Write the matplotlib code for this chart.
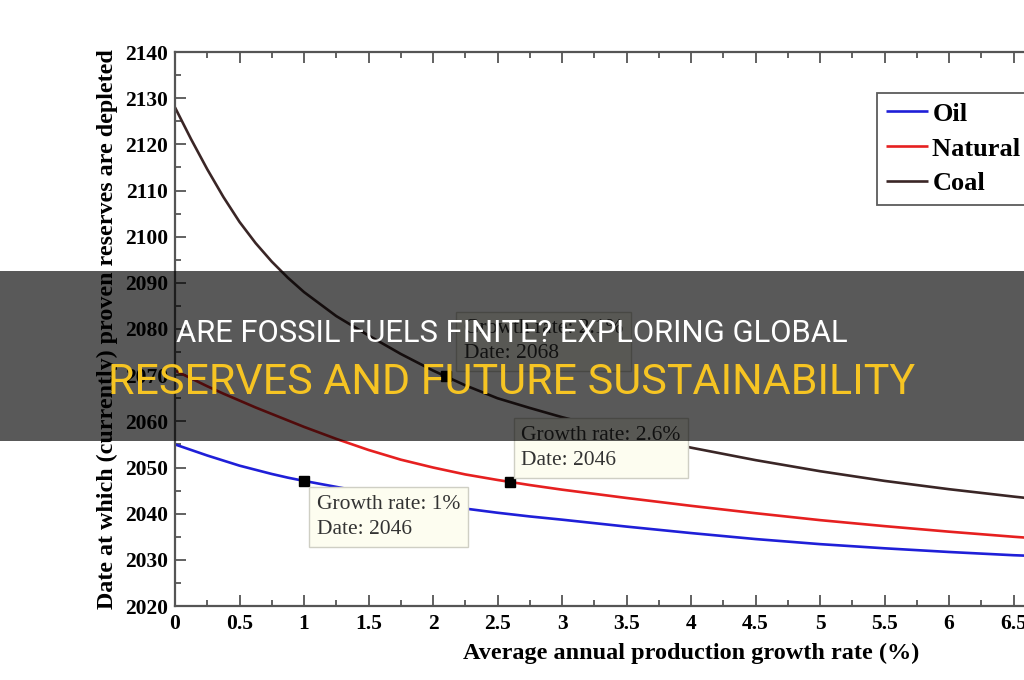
import numpy as np
import matplotlib
matplotlib.use('Agg')
import matplotlib.pyplot as plt
from matplotlib.patches import Rectangle
from matplotlib.ticker import MultipleLocator, FuncFormatter

# ---- data ----
growth = [0, 0.125, 0.25, 0.375, 0.5, 0.625, 0.75, 0.875, 1.0, 1.25, 1.5, 1.75, 2.0,
          2.25, 2.5, 2.75, 3.0, 3.5, 4.0, 4.5, 5.0, 5.5, 6.0, 6.5, 6.6]
oil = [2055.0, 2053.8, 2052.6, 2051.5, 2050.4, 2049.5, 2048.6, 2047.8, 2047.1, 2045.8,
       2044.5, 2043.3, 2042.2, 2041.1, 2040.2, 2039.4, 2038.7, 2037.2, 2035.8, 2034.5,
       2033.4, 2032.5, 2031.7, 2031.0, 2030.9]
gas = [2071.0, 2069.3, 2067.6, 2066.0, 2064.5, 2063.0, 2061.6, 2060.2, 2058.8, 2056.2,
       2053.8, 2051.7, 2050.0, 2048.5, 2047.3, 2046.2, 2045.2, 2043.4, 2041.7, 2040.1,
       2038.6, 2037.3, 2036.1, 2035.0, 2034.8]
coal = [2128.0, 2121.1, 2114.6, 2108.6, 2103.2, 2098.6, 2094.6, 2091.1, 2088.0, 2082.8,
        2078.6, 2074.6, 2071.0, 2067.8, 2065.0, 2062.9, 2060.9, 2057.4, 2054.3, 2051.6,
        2049.2, 2047.1, 2045.3, 2043.7, 2043.4]
series_names = ["Oil", "Natural gas", "Coal"]
series_colors = ["#1f1fd8", "#e62020", "#3a2626"]

ann_rates = [1.0, 2.6, 2.1]
ann_dates = [2046, 2046, 2068]
ann_series = [0, 1, 2]
ann_offsets = [(6, -6, "top"), (4, 4, "bottom"), (11, 5, "bottom")]

title_line1 = "ARE FOSSIL FUELS FINITE? EXPLORING GLOBAL"
title_line2 = "RESERVES AND FUTURE SUSTAINABILITY"

W, H = 1024, 680
fig = plt.figure(figsize=(W / 100, H / 100), dpi=100)
fig.patch.set_facecolor("white")

# axes: x from 0 at px 175, 129 px per unit; y 2020 at px 606, 2140 at px 52
ax = fig.add_axes([175 / W, 1 - 606 / H, 8 * 129 / W, (606 - 52) / H])
ax.set_xlim(0, 8)
ax.set_ylim(2020, 2140)

all_series = [oil, gas, coal]
for vals, name, col in zip(all_series, series_names, series_colors):
    ax.plot(growth, vals, color=col, lw=1.9, label=name, zorder=2,
            solid_capstyle="butt", solid_joinstyle="round")

serif = "Liberation Serif"
ax.xaxis.set_major_locator(MultipleLocator(0.5))
ax.xaxis.set_minor_locator(MultipleLocator(0.25))
ax.yaxis.set_major_locator(MultipleLocator(10))
ax.yaxis.set_minor_locator(MultipleLocator(5))
ax.xaxis.set_major_formatter(FuncFormatter(lambda v, p: f"{v:g}"))
ax.tick_params(which="both", direction="in", top=True, right=True,
               color="#555555", width=1.3)
ax.tick_params(which="major", length=8, labelsize=15.5, pad=6)
ax.tick_params(which="minor", length=4)
ax.tick_params(axis="y", which="major", pad=5)
for lab in ax.get_xticklabels() + ax.get_yticklabels():
    lab.set_fontfamily(serif)
    lab.set_fontweight("bold")
for sp in ax.spines.values():
    sp.set_color("#555555")
    sp.set_linewidth(1.6)

ax.set_xlabel("Average annual production growth rate (%)", fontsize=17.5,
              fontweight="bold", family=serif, labelpad=6)
ax.set_ylabel("Date at which (currently) proven reserves are depleted",
              fontsize=17.3, fontweight="bold", family=serif, labelpad=5)

# annotations
for rate, date, si, (dx, dy, va) in zip(ann_rates, ann_dates, ann_series, ann_offsets):
    yv = np.interp(rate, growth, all_series[si])
    ax.plot([rate], [yv], marker="s", ms=6.5, color="black", zorder=4, ls="none")
    ax.annotate(f"Growth rate: {rate:g}%\nDate: {date}", xy=(rate, yv),
                xytext=(dx + 7, dy + (-8 if va == "top" else 8)),
                textcoords="offset pixels", ha="left", va=va,
                fontsize=15.5, family=serif, color="#333333", linespacing=1.45,
                zorder=5,
                bbox=dict(boxstyle="square,pad=0.35", fc="#fdfdf0", ec="#cfcfc4", lw=1))

leg = ax.legend(loc="upper left", bbox_to_anchor=(877 / W, 1 - 93 / H),
                bbox_transform=fig.transFigure, borderaxespad=0,
                prop={"family": serif, "size": 19, "weight": "bold"},
                frameon=True, fancybox=False, borderpad=0.35, handlelength=1.6,
                handletextpad=0.15, labelspacing=0.43)
leg.get_frame().set_edgecolor("#333333")
leg.get_frame().set_linewidth(1.3)
leg.set_zorder(6)

# overlay band and title
band = Rectangle((0, 1 - 441 / H), 1, 170 / H, transform=fig.transFigure,
                 facecolor="black", alpha=0.65, edgecolor="none", zorder=10)
fig.patches.append(band)
fig.text(0.5, 1 - 334 / H, title_line1, ha="center", va="center", color="white",
         fontsize=22.3, family="Roboto", zorder=11)
fig.text(0.5, 1 - 383 / H, title_line2, ha="center", va="center", color="#f6c423",
         fontsize=31, family="Roboto", zorder=11)

fig.savefig("out.png", dpi=100)
